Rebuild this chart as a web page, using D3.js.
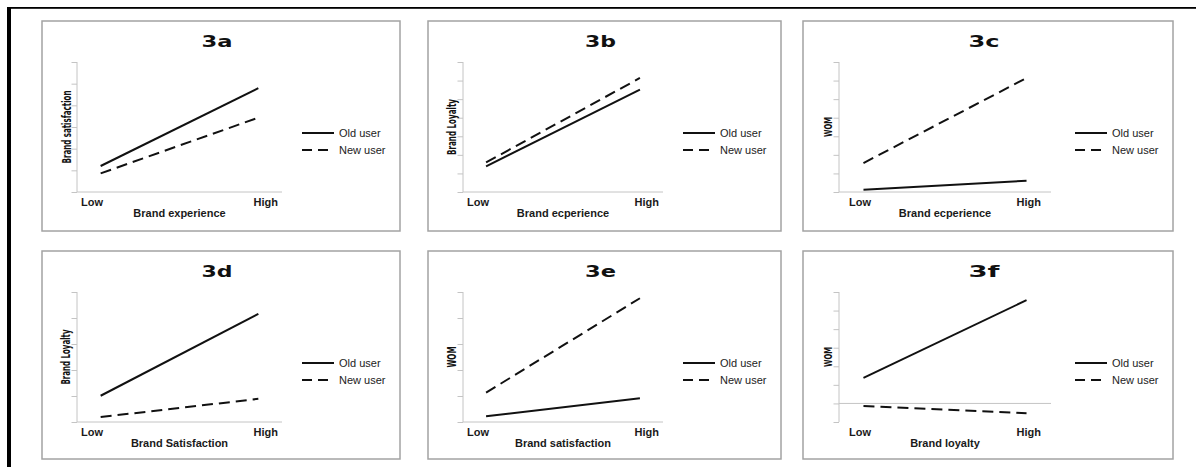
<!DOCTYPE html>
<html>
<head>
<meta charset="utf-8">
<script src="https://cdn.jsdelivr.net/npm/d3@7"></script>
<style>
  html, body { margin: 0; padding: 0; background: #fff; }
  #chart { width: 1196px; height: 467px; }
</style>
</head>
<body>
<div id="chart"></div>
<script>
// panel data
const panelIds = ['3a', '3b', '3c', '3d', '3e', '3f'];
const categories = ['Low', 'High'];
const xTitles = ['Brand experience', 'Brand ecperience', 'Brand ecperience',
  'Brand Satisfaction', 'Brand satisfaction', 'Brand loyalty'];
const yTitles = ['Brand satisfaction', 'Brand Loyalty', 'WOM', 'Brand Loyalty', 'WOM', 'WOM'];
const yMin = [0, 0, 0, 0, 0, -1];
const yMax = [6, 7, 7, 5, 5, 6];
const oldUser = [[1.2, 4.79], [1.38, 5.51], [0.12, 0.61], [1.01, 4.16], [0.22, 0.91], [1.38, 5.56]];
const newUser = [[0.86, 3.43], [1.59, 6.14], [1.56, 6.14], [0.19, 0.89], [1.13, 4.76], [-0.14, -0.53]];
const seriesNames = ['Old user', 'New user'];

const width = 1196;
const height = 467;

// panel boxes
const cols = [{ x0: 42, x1: 400 }, { x0: 428, x1: 781 }, { x0: 803, x1: 1173 }];
const rows = [{ y0: 21, y1: 231 }, { y0: 251, y1: 459 }];
const yTitleLen = [73, 56, 20, 55, 21, 20];
const yTitleSize = [13, 12, 11, 12, 11.5, 11];

const svg = d3.select('#chart')
  .append('svg')
  .attr('width', width)
  .attr('height', height);

// stretch text horizontally like the scanned figure
function stretch(sel, k) {
  sel.each(function () {
    const len = this.getComputedTextLength();
    d3.select(this).attr('textLength', len * k).attr('lengthAdjust', 'spacingAndGlyphs');
  });
}

// outer frame
svg.append('rect').attr('x', 7).attr('y', 7).attr('width', width - 7).attr('height', 1.8).attr('fill', '#000');
svg.append('rect').attr('x', 7).attr('y', 7).attr('width', 4).attr('height', height - 7).attr('fill', '#000');

panelIds.forEach(function (id, i) {
  const c = cols[i % 3];
  const r = rows[Math.floor(i / 3)];
  const last = (i % 3) === 2;
  const g = svg.append('g');

  g.append('rect')
    .attr('x', c.x0).attr('y', r.y0)
    .attr('width', c.x1 - c.x0).attr('height', r.y1 - r.y0)
    .attr('fill', '#fff')
    .attr('stroke', '#a3a3a3')
    .attr('stroke-width', 1.5);

  const left = c.x0 + (last ? 36 : 35);
  const right = c.x1 - (last ? 122 : 118);
  const top = r.y0 + 41;
  const bottom = r.y0 + 171;

  const x = d3.scalePoint().domain(categories).range([left, right]).padding(0.15);
  const y = d3.scaleLinear().domain([yMin[i], yMax[i]]).range([bottom, top]);

  // y axis with ticks on every unit
  const yAxis = d3.axisLeft(y)
    .tickValues(d3.range(yMin[i], yMax[i] + 1))
    .tickSize(5.5)
    .tickFormat('');
  const ya = g.append('g').attr('transform', 'translate(' + left + ',0)').call(yAxis);
  ya.select('.domain').attr('stroke', '#c4c4c4').attr('d', 'M0,' + top + 'V' + bottom);
  ya.selectAll('.tick line').attr('stroke', '#c4c4c4');

  // horizontal axis at zero
  g.append('line')
    .attr('x1', left).attr('x2', right)
    .attr('y1', y(0)).attr('y2', y(0))
    .attr('stroke', '#c4c4c4');

  // title
  g.append('text')
    .attr('x', (c.x0 + c.x1) / 2 - 4)
    .attr('y', r.y0 + 26)
    .attr('text-anchor', 'middle')
    .attr('font-family', 'DejaVu Sans')
    .attr('font-weight', 'bold')
    .attr('font-size', 15.5)
    .attr('fill', '#111')
    .attr('textLength', 31)
    .attr('lengthAdjust', 'spacingAndGlyphs')
    .text(id);

  // Low / High labels
  const pad = last ? 10 : 4;
  const lab = g.selectAll('.cat')
    .data(categories)
    .enter()
    .append('text')
    .attr('class', 'cat')
    .attr('x', function (d, j) { return j === 0 ? left + pad : right - pad; })
    .attr('y', r.y0 + 185)
    .attr('text-anchor', function (d, j) { return j === 0 ? 'start' : 'end'; })
    .attr('font-family', 'Liberation Sans, Arial, sans-serif')
    .attr('font-weight', 'bold')
    .attr('font-size', 10)
    .attr('fill', '#1a1a1a')
    .text(function (d) { return d; });
  stretch(lab, 1.1);

  // x title
  const xt = g.append('text')
    .attr('x', (left + right) / 2)
    .attr('y', r.y0 + 196)
    .attr('text-anchor', 'middle')
    .attr('font-family', 'Liberation Sans, Arial, sans-serif')
    .attr('font-weight', 'bold')
    .attr('font-size', 10)
    .attr('fill', '#1a1a1a')
    .text(xTitles[i]);
  stretch(xt, 1.1);

  // y title, narrow font squeezed to length
  g.append('text')
    .attr('transform', 'translate(' + (left - 11) + ',' + ((top + bottom) / 2) + ') rotate(-90)')
    .attr('text-anchor', 'middle')
    .attr('dy', '0.35em')
    .attr('font-family', 'Liberation Sans Narrow, DejaVu Sans Condensed, Arial Narrow, sans-serif')
    .attr('font-weight', 'bold')
    .attr('font-size', yTitleSize[i])
    .attr('fill', '#111')
    .attr('textLength', yTitleLen[i])
    .attr('lengthAdjust', 'spacingAndGlyphs')
    .text(yTitles[i]);

  // series lines
  const line = d3.line()
    .x(function (d, j) { return x(categories[j]); })
    .y(function (d) { return y(d); });

  [oldUser[i], newUser[i]].forEach(function (vals, s) {
    g.append('path')
      .datum(vals)
      .attr('d', line)
      .attr('fill', 'none')
      .attr('stroke', '#111')
      .attr('stroke-width', 2)
      .attr('stroke-dasharray', s === 1 ? '11,6' : null);
  });

  // legend
  const lx = c.x1 - 98;
  seriesNames.forEach(function (name, s) {
    const ly = r.y0 + 112 + s * 17;
    g.append('line')
      .attr('x1', lx).attr('x2', lx + 32)
      .attr('y1', ly).attr('y2', ly)
      .attr('stroke', '#111')
      .attr('stroke-width', 2)
      .attr('stroke-dasharray', s === 1 ? '10,6' : null);
    const lt = g.append('text')
      .attr('x', lx + 37)
      .attr('y', ly)
      .attr('dy', '0.35em')
      .attr('font-family', 'Liberation Sans, Arial, sans-serif')
      .attr('font-size', 10)
      .attr('fill', '#222')
      .text(name);
    stretch(lt, 1.1);
  });
});
</script>
</body>
</html>
